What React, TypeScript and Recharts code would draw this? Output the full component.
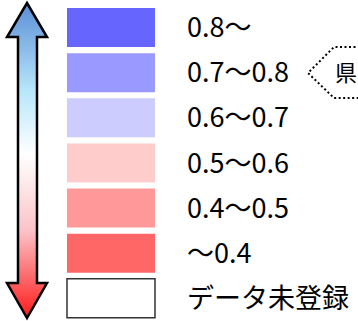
import { BarChart, Bar, XAxis, YAxis, Cell, LabelList, Customized } from 'recharts';

// Legend rows, top to bottom
const rangeLabels = ['0.8〜', '0.7〜0.8', '0.6〜0.7', '0.5〜0.6', '0.4〜0.5', '〜0.4', 'データ未登録'];
const swatchColors = ['#6666ff', '#9999ff', '#ccccff', '#ffcccc', '#ff9999', '#ff6666', '#ffffff'];
const swatchValues = [1, 1, 1, 1, 1, 1, 1];
const calloutText = '県';

const data = rangeLabels.map((label, i) => ({ label, value: swatchValues[i], color: swatchColors[i] }));

const FONT = '"Noto Sans CJK JP", "Noto Sans", sans-serif';

// double-headed gradient arrow on the left
function ScaleArrow() {
  const d =
    'M27,3 L47,37 L37,37 L37,283 L47,283 L27,318 L7,283 L18,283 L18,37 L7,37 Z';
  return (
    <g>
      <defs>
        <linearGradient id="arrowGrad" x1="0" y1="0" x2="0" y2="1">
          <stop offset="0%" stopColor="#5a8fd6" />
          <stop offset="28%" stopColor="#b8e6fb" />
          <stop offset="48%" stopColor="#ffffff" />
          <stop offset="72%" stopColor="#fbc4c8" />
          <stop offset="100%" stopColor="#ff1a1a" />
        </linearGradient>
      </defs>
      <path d={d} fill="url(#arrowGrad)" stroke="#000" strokeWidth={2.5} strokeLinejoin="miter" />
    </g>
  );
}

// dotted callout running off the right edge
function Callout() {
  return (
    <g>
      <path
        d="M360,47 L334,47 L308,73 L334,98 L360,98"
        fill="none"
        stroke="#000"
        strokeWidth={2}
        strokeDasharray="2 2.5"
      />
      <text x={335} y={81} fontSize={22} fontFamily={FONT} fill="#000">
        {calloutText}
      </text>
    </g>
  );
}

export default function App() {
  return (
    <div style={{ position: 'absolute', left: 0, top: 0, background: '#fff' }}>
      <BarChart
        width={358}
        height={321}
        data={data}
        layout="vertical"
        margin={{ top: 5, right: 203, bottom: 0, left: 67 }}
      >
        <XAxis type="number" domain={[0, 1]} hide />
        <YAxis type="category" dataKey="label" hide />
        <Bar dataKey="value" barSize={39} isAnimationActive={false}>
          {data.map((row, i) => (
            <Cell
              key={row.label}
              fill={row.color}
              stroke={i === data.length - 1 ? '#333' : 'none'}
              strokeWidth={i === data.length - 1 ? 1.5 : 0}
            />
          ))}
          <LabelList
            dataKey="label"
            position="right"
            offset={32}
            fill="#000"
            fontSize={27}
            fontFamily={FONT}
          />
        </Bar>
        <Customized component={ScaleArrow} />
        <Customized component={Callout} />
      </BarChart>
    </div>
  );
}
